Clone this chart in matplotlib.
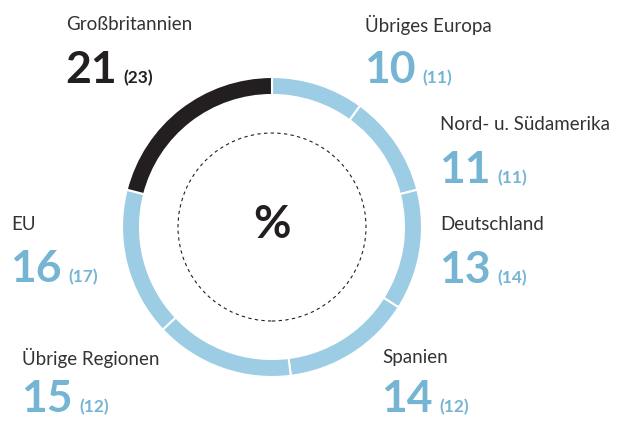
import matplotlib.pyplot as plt
from matplotlib.patches import Circle

# Anteile in %, im Uhrzeigersinn ab 12 Uhr
regions = ['Übriges Europa', 'Nord- u. Südamerika', 'Deutschland', 'Spanien',
           'Übrige Regionen', 'EU', 'Großbritannien']
values = [10, 11, 13, 14, 15, 16, 21]
prev_values = [11, 11, 14, 12, 12, 17, 23]

# Beschriftungspositionen (Pixel, oben links): x, y Mitte Label, y Grundlinie Zahl
label_pos = {
    'Übriges Europa': (365, 25, 83),
    'Nord- u. Südamerika': (440, 125, 183),
    'Deutschland': (440, 224, 283),
    'Spanien': (382, 358, 412),
    'Übrige Regionen': (22, 358, 412),
    'EU': (11, 225, 282),
    'Großbritannien': (66, 25, 83),
}

blue = '#9ccde4'
blue_text = '#75b5d3'
black = '#231f20'
grey_text = '#333333'

W, H = 619, 421
fig = plt.figure(figsize=(W / 100, H / 100), dpi=100)
ax = fig.add_axes([0, 0, 1, 1])

cx, cy = 272, H - 227
colors = [black if r == 'Großbritannien' else blue for r in regions]
ax.pie(values, colors=colors, startangle=90, counterclock=False,
       radius=150, center=(cx, cy), frame=True,
       wedgeprops=dict(width=18, edgecolor='white', linewidth=1.5))
ax.set_xlim(0, W)
ax.set_ylim(0, H)
ax.set_aspect('equal')
ax.axis('off')

ax.add_patch(Circle((cx, cy), 94, fill=False, ls=(0, (3, 3)), lw=0.8, color=black))
ax.text(cx, cy + 2, '%', fontsize=33, fontweight='bold', color=black,
        ha='center', va='center', family='Lato')

for r, v, p in zip(regions, values, prev_values):
    x, y, yb = label_pos[r]
    col = black if r == 'Großbritannien' else blue_text
    ax.text(x, H - y, r, fontsize=13.5, color=grey_text, ha='left', va='center',
            family='Lato')
    ax.text(x - 1, H - yb, str(v), fontsize=32, fontweight='bold', color=col,
            ha='left', va='baseline', family='Lato')
    ax.text(x + 57, H - yb, f'({p})', fontsize=12.5, fontweight='bold',
            color=col, ha='left', va='baseline', family='Lato')

fig.savefig('out.png', dpi=100)
